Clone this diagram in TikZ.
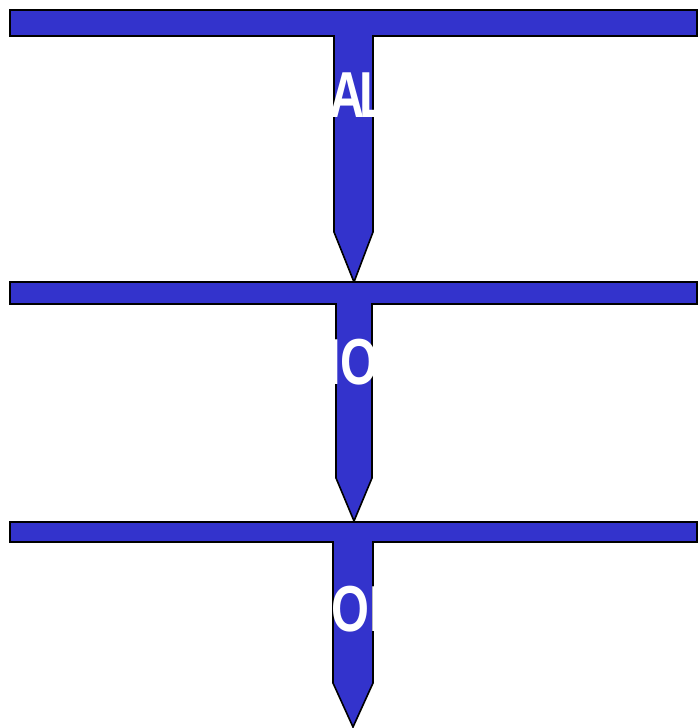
\documentclass[tikz,border=0pt]{standalone}
\usepackage{graphicx}
\usepackage{fontspec}
\setmainfont{Liberation Sans}
\definecolor{tblue}{HTML}{3333CC}
\tikzset{
  tshape/.style={fill=tblue,draw=black,line width=1.6pt,line join=miter},
  wlabel/.style={text=white,font=\bfseries\fontsize{65}{65}\selectfont,inner sep=0pt,anchor=base west}
}
\newcommand{\narrowtxt}[1]{\scalebox{0.75}[1]{#1}}
\begin{document}
\begin{tikzpicture}[x=1pt,y=-1pt]
\useasboundingbox (0,0) rectangle (698,728);
% shape 1
\draw[tshape] (10,10) -- (697,10) -- (697,36) -- (373,36) -- (373,232) -- (354,282)
  -- (334,232) -- (334,36) -- (10,36) -- cycle;
% shape 2
\draw[tshape] (10,282) -- (697,282) -- (697,304) -- (372,304) -- (372,478) -- (354,521)
  -- (336,478) -- (336,304) -- (10,304) -- cycle;
% shape 3
\draw[tshape] (10,522) -- (697,522) -- (697,542) -- (373,542) -- (373,683) -- (353,727)
  -- (333,683) -- (333,542) -- (10,542) -- cycle;
% labels (white text, visible only over the blue)
\node[wlabel] (t1) at (329,117) {\narrowtxt{A\kern-6pt L}};
\node[wlabel] (t2) at (327,384) {\narrowtxt{IO}};
\node[wlabel] (t3) at (331,631) {\narrowtxt{OI}};
\end{tikzpicture}
\end{document}
